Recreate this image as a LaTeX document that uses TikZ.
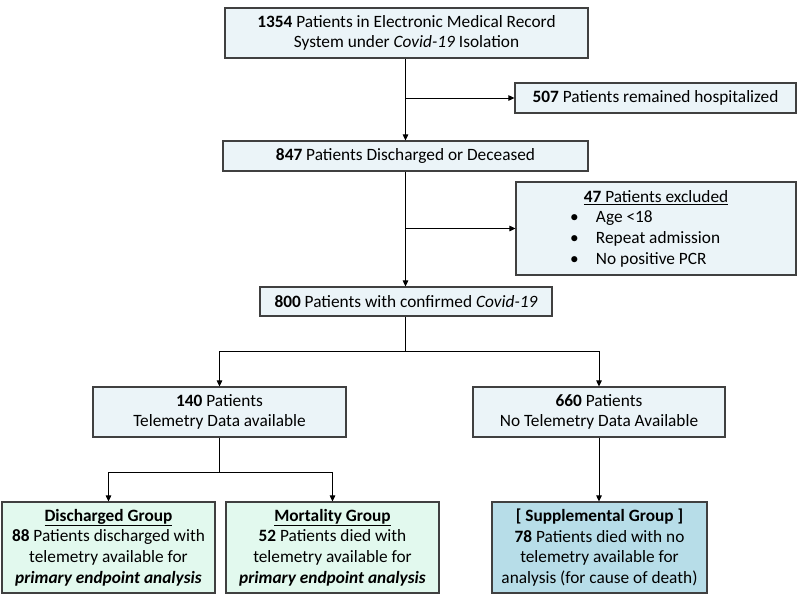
\documentclass[tikz,border=0pt]{standalone}
\usepackage{fontspec}
\setmainfont{Carlito}
\usetikzlibrary{arrows.meta,positioning}
\definecolor{boxblue}{HTML}{EBF4F8}
\definecolor{boxgreen}{HTML}{E2F9EE}
\definecolor{boxsupp}{HTML}{B7DDE8}
\definecolor{edge}{HTML}{404040}
\tikzset{
  box/.style={draw=edge, line width=1.1pt, fill=boxblue, inner sep=0pt, align=center,
    font=\fontsize{17.3}{20.6}\selectfont},
  arr/.style={line width=0.9pt, draw=black, -{Triangle[length=6pt,width=5.5pt]}},
  ln/.style={line width=0.9pt, draw=black},
}
\newcommand{\bulitem}[1]{\makebox[280pt][l]{\hspace*{54pt}\makebox[26pt][l]{•}#1}}
\begin{document}
\begin{tikzpicture}[x=1pt,y=-1pt]
\useasboundingbox (0,0) rectangle (800,595);
\node[box, minimum width=363pt, minimum height=50pt] (top) at (406.5,33)
  {\textbf{1354} Patients in Electronic Medical Record\\System under \textit{Covid-19} Isolation};
\node[box, minimum width=281pt, minimum height=30pt] (hosp) at (655.5,98)
  {\textbf{507} Patients remained hospitalized};
\node[box, minimum width=365pt, minimum height=30pt] (d847) at (405.5,156)
  {\textbf{847} Patients Discharged or Deceased};
\node[box, minimum width=280pt, minimum height=93pt] (excl) at (656,228.5)
  {\makebox[280pt][c]{\underline{\textbf{47} Patients excluded}}\\
   \bulitem{Age <18}\\
   \bulitem{Repeat admission}\\
   \bulitem{No positive PCR}};
\node[box, minimum width=292pt, minimum height=29pt] (c800) at (406,301.5)
  {\textbf{800} Patients with confirmed \textit{Covid-19}};
\node[box, minimum width=253pt, minimum height=50pt] (tel) at (219.5,412)
  {\textbf{140} Patients\\Telemetry Data available};
\node[box, minimum width=252pt, minimum height=50pt] (notel) at (599,412)
  {\textbf{660} Patients\\No Telemetry Data Available};
\node[box, fill=boxgreen, minimum width=213pt, minimum height=91pt] (dis) at (108.5,547.5)
  {\underline{\textbf{Discharged Group}}\\\textbf{88} Patients discharged with\\telemetry available for\\\textbf{\textit{primary endpoint analysis}}};
\node[box, fill=boxgreen, minimum width=213pt, minimum height=91pt] (mort) at (332.5,547.5)
  {\underline{\textbf{Mortality Group}}\\\textbf{52} Patients died with\\telemetry available for\\\textbf{\textit{primary endpoint analysis}}};
\node[box, fill=boxsupp, minimum width=215pt, minimum height=91pt] (supp) at (599.5,547.5)
  {\textbf{[ Supplemental Group ]}\\\textbf{78} Patients died with no\\telemetry available for\\analysis (for cause of death)};
% connectors
\coordinate (b1) at (d847.north |- hosp.west);
\coordinate (b2) at (d847.south |- excl.west);
\coordinate (b3) at (405,351);
\coordinate (b4) at (tel.south |- 0,472);
\draw[arr] (top.south -| d847.north) -- (d847.north);
\draw[arr] (b1) -- (hosp.west);
\draw[arr] (d847.south) -- (c800.north -| d847.south);
\draw[arr] (b2) -- (excl.west);
\draw[ln] (c800.south -| b3) -- (b3);
\draw[arr] (b3) -| (tel.north);
\draw[arr] (b3) -| (notel.north);
\draw[ln] (tel.south) -- (b4);
\draw[arr] (b4) -| (dis.north);
\draw[arr] (b4) -| (mort.north);
\draw[arr] (notel.south) -- (supp.north -| notel.south);
\end{tikzpicture}
\end{document}
